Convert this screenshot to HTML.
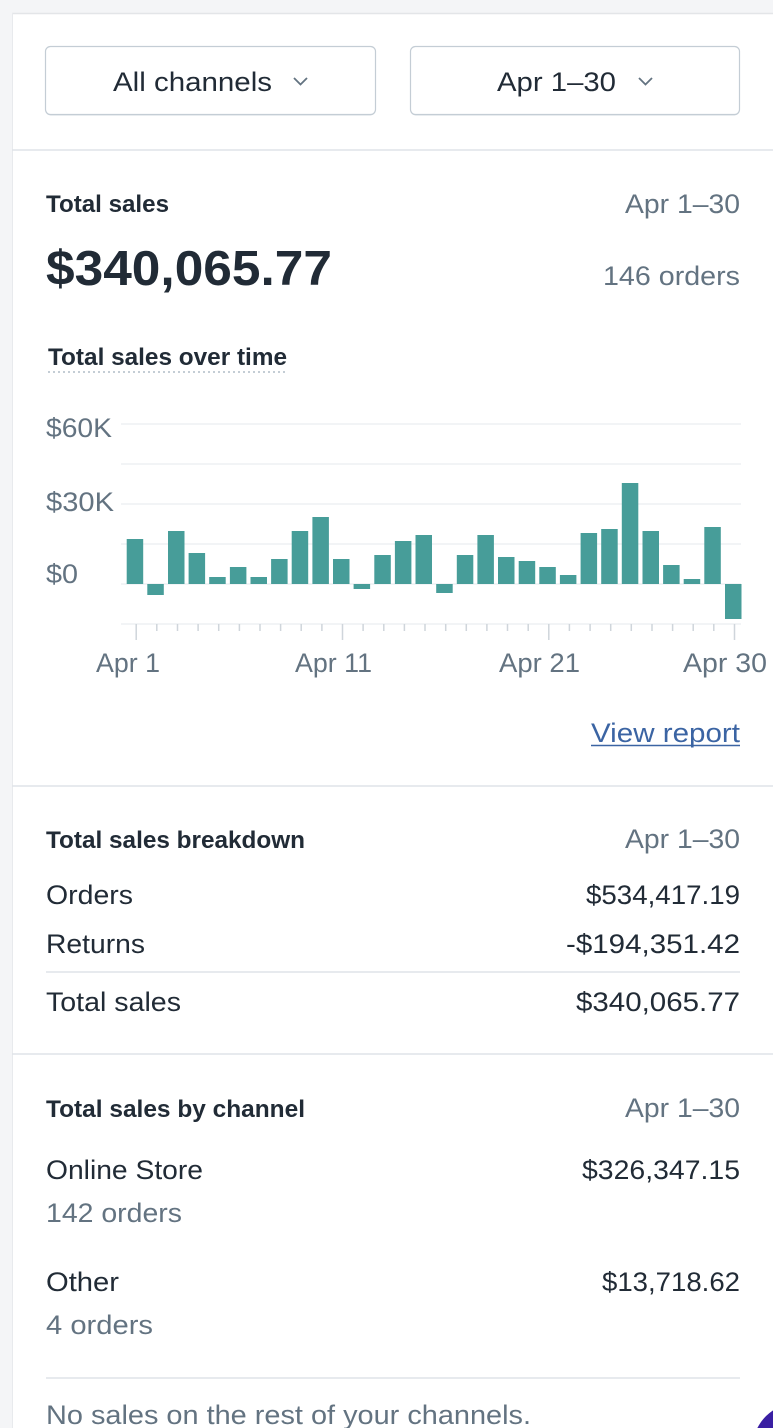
<!DOCTYPE html>
<html><head><meta charset="utf-8"><style>
html,body{margin:0;padding:0;background:#fff;}
svg{display:block;}
</style></head><body>
<svg width="773" height="1428" viewBox="0 0 773 1428" xmlns="http://www.w3.org/2000/svg" font-family="'Liberation Sans', Arial, sans-serif">
<rect x="0" y="0" width="773" height="1428" fill="#fff"/>
<!-- frame -->
<rect x="0" y="0" width="773" height="13" fill="#f4f5f7"/>
<rect x="0" y="0" width="12" height="1428" fill="#f4f5f7"/>
<line x1="12" y1="13.5" x2="773" y2="13.5" stroke="#e3e5e8" stroke-width="1.5"/>
<line x1="12.5" y1="13" x2="12.5" y2="1428" stroke="#e8eaed" stroke-width="1"/>

<!-- buttons -->
<rect x="45.5" y="47.5" width="330" height="68" rx="5" fill="#c4cdd5" opacity="0.7"/>
<rect x="45.5" y="46.5" width="330" height="68" rx="5" fill="#fff" stroke="#c4cdd5" stroke-width="1.2"/>
<text x="113" y="91" font-size="27" fill="#212b36" textLength="159" lengthAdjust="spacingAndGlyphs">All channels</text>
<polyline points="294,78 300.5,84.5 307,78" fill="none" stroke="#637381" stroke-width="1.8"/>

<rect x="410.5" y="47.5" width="329" height="68" rx="5" fill="#c4cdd5" opacity="0.7"/>
<rect x="410.5" y="46.5" width="329" height="68" rx="5" fill="#fff" stroke="#c4cdd5" stroke-width="1.2"/>
<text x="497" y="91" font-size="27" fill="#212b36" textLength="119" lengthAdjust="spacingAndGlyphs">Apr 1–30</text>
<polyline points="639,78 645.5,84.5 652,78" fill="none" stroke="#637381" stroke-width="1.8"/>

<line x1="12" y1="150" x2="773" y2="150" stroke="#dfe3e8" stroke-width="1.5"/>

<!-- Total sales header -->
<text x="46" y="212" font-size="24" font-weight="bold" fill="#212b36" textLength="123" lengthAdjust="spacingAndGlyphs">Total sales</text>
<text x="740" y="213" font-size="27" fill="#637381" text-anchor="end" textLength="115" lengthAdjust="spacingAndGlyphs">Apr 1–30</text>
<text x="46" y="285" font-size="49" font-weight="bold" fill="#212b36" textLength="286" lengthAdjust="spacingAndGlyphs">$340,065.77</text>
<text x="740" y="285" font-size="27" fill="#637381" text-anchor="end" textLength="137" lengthAdjust="spacingAndGlyphs">146 orders</text>

<text x="48" y="365" font-size="24" font-weight="bold" fill="#212b36" textLength="239" lengthAdjust="spacingAndGlyphs">Total sales over time</text>
<line x1="48" y1="372" x2="288" y2="372" stroke="#c4cdd5" stroke-width="2" stroke-dasharray="2,3"/>

<!-- chart grid -->
<g stroke="#ebeef0" stroke-width="1.2">
<line x1="121" y1="424" x2="741" y2="424"/>
<line x1="121" y1="464" x2="741" y2="464"/>
<line x1="121" y1="504" x2="741" y2="504"/>
<line x1="121" y1="544" x2="741" y2="544"/>
<line x1="121" y1="584" x2="741" y2="584"/>
<line x1="121" y1="624" x2="741" y2="624"/>
</g>
<g font-size="27" fill="#637381">
<text x="46" y="437" textLength="66" lengthAdjust="spacingAndGlyphs">$60K</text>
<text x="46" y="511" textLength="68" lengthAdjust="spacingAndGlyphs">$30K</text>
<text x="46" y="583" textLength="32" lengthAdjust="spacingAndGlyphs">$0</text>
</g>

<!-- bars -->
<g fill="#479d99">
<rect x="126.7" y="539" width="16.5" height="45"/>
<rect x="147.3" y="584" width="16.5" height="11"/>
<rect x="168.0" y="531" width="16.5" height="53"/>
<rect x="188.6" y="553" width="16.5" height="31"/>
<rect x="209.2" y="577" width="16.5" height="7"/>
<rect x="229.9" y="567" width="16.5" height="17"/>
<rect x="250.5" y="577" width="16.5" height="7"/>
<rect x="271.1" y="559" width="16.5" height="25"/>
<rect x="291.7" y="531" width="16.5" height="53"/>
<rect x="312.4" y="517" width="16.5" height="67"/>
<rect x="333.0" y="559" width="16.5" height="25"/>
<rect x="353.6" y="584" width="16.5" height="5"/>
<rect x="374.3" y="555" width="16.5" height="29"/>
<rect x="394.9" y="541" width="16.5" height="43"/>
<rect x="415.5" y="535" width="16.5" height="49"/>
<rect x="436.2" y="584" width="16.5" height="9"/>
<rect x="456.8" y="555" width="16.5" height="29"/>
<rect x="477.4" y="535" width="16.5" height="49"/>
<rect x="498.0" y="557" width="16.5" height="27"/>
<rect x="518.7" y="561" width="16.5" height="23"/>
<rect x="539.3" y="567" width="16.5" height="17"/>
<rect x="559.9" y="575" width="16.5" height="9"/>
<rect x="580.6" y="533" width="16.5" height="51"/>
<rect x="601.2" y="529" width="16.5" height="55"/>
<rect x="621.8" y="483" width="16.5" height="101"/>
<rect x="642.5" y="531" width="16.5" height="53"/>
<rect x="663.1" y="565" width="16.5" height="19"/>
<rect x="683.7" y="579" width="16.5" height="5"/>
<rect x="704.3" y="527" width="16.5" height="57"/>
<rect x="725.0" y="584" width="16.5" height="35"/>
</g>

<!-- ticks -->
<g stroke="#cfd5db" stroke-width="1.5">
<line x1="136.2" y1="624" x2="136.2" y2="640"/>
<line x1="156.8" y1="624" x2="156.8" y2="631"/>
<line x1="177.5" y1="624" x2="177.5" y2="631"/>
<line x1="198.1" y1="624" x2="198.1" y2="631"/>
<line x1="218.7" y1="624" x2="218.7" y2="631"/>
<line x1="239.4" y1="624" x2="239.4" y2="631"/>
<line x1="260.0" y1="624" x2="260.0" y2="631"/>
<line x1="280.6" y1="624" x2="280.6" y2="631"/>
<line x1="301.2" y1="624" x2="301.2" y2="631"/>
<line x1="321.9" y1="624" x2="321.9" y2="631"/>
<line x1="342.5" y1="624" x2="342.5" y2="640"/>
<line x1="363.1" y1="624" x2="363.1" y2="631"/>
<line x1="383.8" y1="624" x2="383.8" y2="631"/>
<line x1="404.4" y1="624" x2="404.4" y2="631"/>
<line x1="425.0" y1="624" x2="425.0" y2="631"/>
<line x1="445.7" y1="624" x2="445.7" y2="631"/>
<line x1="466.3" y1="624" x2="466.3" y2="631"/>
<line x1="486.9" y1="624" x2="486.9" y2="631"/>
<line x1="507.5" y1="624" x2="507.5" y2="631"/>
<line x1="528.2" y1="624" x2="528.2" y2="631"/>
<line x1="548.8" y1="624" x2="548.8" y2="640"/>
<line x1="569.4" y1="624" x2="569.4" y2="631"/>
<line x1="590.1" y1="624" x2="590.1" y2="631"/>
<line x1="610.7" y1="624" x2="610.7" y2="631"/>
<line x1="631.3" y1="624" x2="631.3" y2="631"/>
<line x1="652.0" y1="624" x2="652.0" y2="631"/>
<line x1="672.6" y1="624" x2="672.6" y2="631"/>
<line x1="693.2" y1="624" x2="693.2" y2="631"/>
<line x1="713.8" y1="624" x2="713.8" y2="631"/>
<line x1="734.5" y1="624" x2="734.5" y2="640"/>
</g>
<g font-size="27" fill="#637381">
<text x="96" y="672" textLength="64" lengthAdjust="spacingAndGlyphs">Apr 1</text>
<text x="295" y="672" textLength="77" lengthAdjust="spacingAndGlyphs">Apr 11</text>
<text x="499" y="672" textLength="81" lengthAdjust="spacingAndGlyphs">Apr 21</text>
<text x="683" y="672" textLength="84" lengthAdjust="spacingAndGlyphs">Apr 30</text>
</g>

<text x="740" y="742" font-size="27" fill="#3b64a3" text-anchor="end" textLength="149" lengthAdjust="spacingAndGlyphs">View report</text>
<line x1="591" y1="745.5" x2="740" y2="745.5" stroke="#3b64a3" stroke-width="1.6"/>

<line x1="12" y1="786" x2="773" y2="786" stroke="#dfe3e8" stroke-width="1.5"/>

<!-- breakdown -->
<text x="46" y="848" font-size="24" font-weight="bold" fill="#212b36" textLength="259" lengthAdjust="spacingAndGlyphs">Total sales breakdown</text>
<text x="740" y="848" font-size="27" fill="#637381" text-anchor="end" textLength="115" lengthAdjust="spacingAndGlyphs">Apr 1–30</text>
<text x="46" y="904" font-size="27" fill="#212b36" textLength="87" lengthAdjust="spacingAndGlyphs">Orders</text>
<text x="740" y="904" font-size="27" fill="#212b36" text-anchor="end" textLength="154" lengthAdjust="spacingAndGlyphs">$534,417.19</text>
<text x="46" y="953" font-size="27" fill="#212b36" textLength="99" lengthAdjust="spacingAndGlyphs">Returns</text>
<text x="740" y="953" font-size="27" fill="#212b36" text-anchor="end" textLength="174" lengthAdjust="spacingAndGlyphs">-$194,351.42</text>
<line x1="46" y1="972" x2="740" y2="972" stroke="#dfe3e8" stroke-width="1.5"/>
<text x="46" y="1011" font-size="27" fill="#212b36" textLength="135" lengthAdjust="spacingAndGlyphs">Total sales</text>
<text x="740" y="1011" font-size="27" fill="#212b36" text-anchor="end" textLength="164" lengthAdjust="spacingAndGlyphs">$340,065.77</text>

<line x1="12" y1="1054" x2="773" y2="1054" stroke="#dfe3e8" stroke-width="1.5"/>

<!-- by channel -->
<text x="46" y="1117" font-size="24" font-weight="bold" fill="#212b36" textLength="259" lengthAdjust="spacingAndGlyphs">Total sales by channel</text>
<text x="740" y="1117" font-size="27" fill="#637381" text-anchor="end" textLength="115" lengthAdjust="spacingAndGlyphs">Apr 1–30</text>
<text x="46" y="1179" font-size="27" fill="#212b36" textLength="157" lengthAdjust="spacingAndGlyphs">Online Store</text>
<text x="740" y="1179" font-size="27" fill="#212b36" text-anchor="end" textLength="158" lengthAdjust="spacingAndGlyphs">$326,347.15</text>
<text x="46" y="1222" font-size="27" fill="#637381" textLength="136" lengthAdjust="spacingAndGlyphs">142 orders</text>
<text x="46" y="1291" font-size="27" fill="#212b36" textLength="73" lengthAdjust="spacingAndGlyphs">Other</text>
<text x="740" y="1291" font-size="27" fill="#212b36" text-anchor="end" textLength="138" lengthAdjust="spacingAndGlyphs">$13,718.62</text>
<text x="46" y="1334" font-size="27" fill="#637381" textLength="107" lengthAdjust="spacingAndGlyphs">4 orders</text>
<line x1="46" y1="1378" x2="740" y2="1378" stroke="#dfe3e8" stroke-width="1.5"/>
<text x="46" y="1424" font-size="27" fill="#637381" textLength="485" lengthAdjust="spacingAndGlyphs">No sales on the rest of your channels.</text>

<!-- corner element -->
<circle cx="800" cy="1450" r="48" fill="#3a1fa3"/>
</svg>
</body></html>
